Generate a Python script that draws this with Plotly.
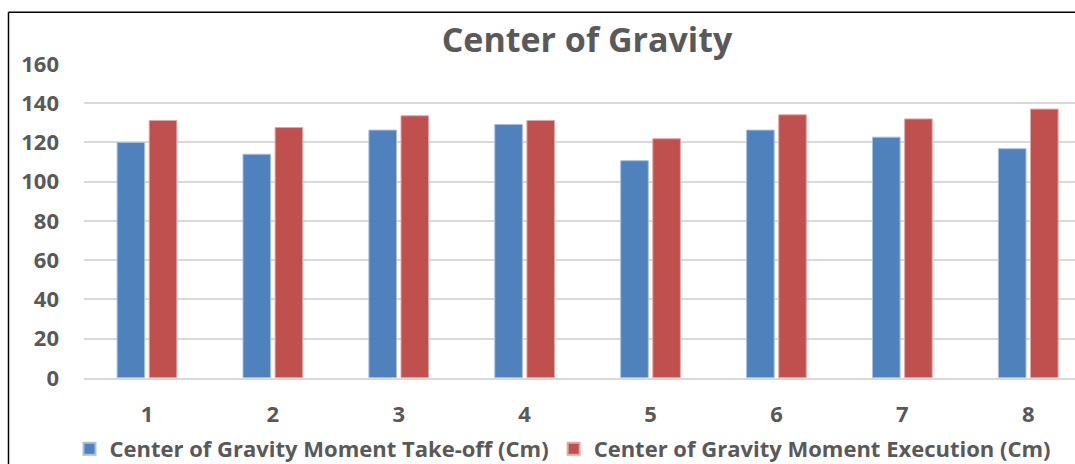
import plotly.graph_objects as go

categories = [1, 2, 3, 4, 5, 6, 7, 8]
takeoff = [120, 114, 126.3, 129.2, 110.7, 126.3, 122.7, 116.8]
execution = [131.2, 127.6, 133.6, 131.2, 121.9, 134.1, 132, 137]
tick_labels = ["1", "2", "3", "4", "5", "6", "7", "8"]
series_names = ["Center of Gravity Moment Take-off (Cm)", "Center of Gravity Moment Execution (Cm)"]

W, H = 1075, 464
ml, mr, mt, mb = 84, 0, 64.3, 85.2
pw, ph = W - ml - mr, H - mt - mb
FONT = "Open Sans"
GRAY = "#595959"

fig = go.Figure()
fig.add_trace(go.Bar(x=categories, y=takeoff, name=series_names[0],
                     marker=dict(color="#4F81BD", line=dict(color="#A7C0E0", width=1))))
fig.add_trace(go.Bar(x=categories, y=execution, name=series_names[1],
                     marker=dict(color="#C0504D", line=dict(color="#E0A8A6", width=1))))

def px_x(x):
    return (x - ml) / pw

def px_y(y):
    return (H - mb - y) / ph

# chart-area frame (top and left edges visible; right/bottom are cropped in the source)
fig.add_shape(type="line", xref="paper", yref="paper",
              x0=px_x(8.5), x1=px_x(1100), y0=px_y(12.5), y1=px_y(12.5),
              line=dict(color="black", width=1.5), layer="above")
fig.add_shape(type="line", xref="paper", yref="paper",
              x0=px_x(8.5), x1=px_x(8.5), y0=px_y(12.5), y1=px_y(500),
              line=dict(color="black", width=1.5), layer="above")

cat_w = 125.9
fig.update_layout(
    width=W, height=H,
    margin=dict(l=ml, r=mr, t=mt, b=mb),
    paper_bgcolor="white", plot_bgcolor="white",
    barmode="group", bargap=0.49, bargroupgap=0.14,
    title=dict(text="Center of Gravity", x=px_x(587), xref="paper", xanchor="center",
               y=1 - 40 / H, yref="container", yanchor="middle",
               font=dict(family=FONT, size=34, color=GRAY, weight="bold")),
    xaxis=dict(type="linear", range=[0.5, 0.5 + pw / cat_w], tickmode="array",
               tickvals=categories, ticktext=tick_labels, showgrid=False, zeroline=False,
               showline=True, linecolor="#D9D9D9", linewidth=2,
               tickfont=dict(family=FONT, size=22, color=GRAY, weight="bold"), ticks="",
               ticklabelstandoff=16),
    yaxis=dict(range=[0, 160], tickvals=[0, 20, 40, 60, 80, 100, 120, 140, 160],
               showgrid=True, gridcolor="#D9D9D9", gridwidth=2, zeroline=False,
               tickfont=dict(family=FONT, size=22, color=GRAY, weight="bold"), ticks="",
               ticklabelstandoff=24),
    legend=dict(orientation="h", xref="container", x=563 / W, xanchor="center",
                yref="container", y=1 - 449 / H, yanchor="middle",
                font=dict(family=FONT, size=22, color=GRAY, weight="bold"), itemsizing="constant",
                itemwidth=30, tracegroupgap=0),
    showlegend=True,
)

fig.write_html("out.html", config={"displayModeBar": False},
               post_script="document.body.style.margin='0';document.body.style.overflow='hidden';")
